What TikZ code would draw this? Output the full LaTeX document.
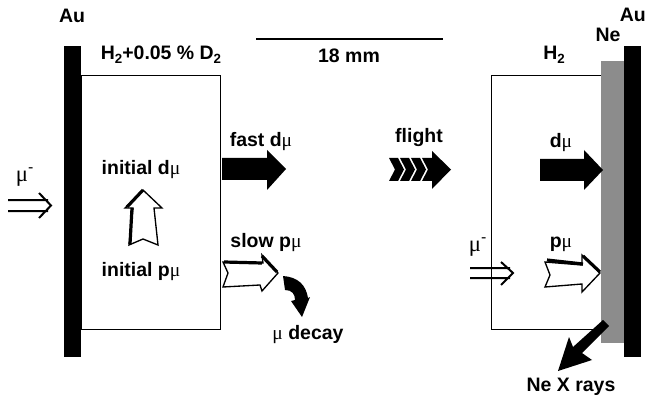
\documentclass[tikz,border=0pt]{standalone}
\usepackage{fontspec}
\setmainfont{Liberation Sans}
\newfontfamily\mufont{Liberation Serif}
\newcommand{\mumu}{{\mufont\mdseries μ}}
\newcommand{\subtwo}[1]{\raisebox{-3.2pt}{\fontsize{10pt}{12pt}\selectfont #1}}
\tikzset{
  x=0.75pt,y=-0.75pt,
  lbl/.style={font=\fontsize{14.6pt}{17pt}\selectfont\bfseries,inner sep=0pt,text=black},
  mulbl/.style={font=\fontsize{17pt}{20pt}\selectfont,inner sep=0pt},
  solidbar/.style={fill=black,draw=none},
  neon/.style={fill=black!45,draw=none},
  cell/.style={draw=black,line width=0.9pt,fill=white},
  hollow/.style={draw=black,line width=1pt,fill=white,line join=miter},
  shade/.style={draw=black,line width=2.4pt},
  solidarrow/.style={fill=black,draw=none},
  dbl/.style={draw=black,line width=1.5pt},
}
\begin{document}
\begin{tikzpicture}
\useasboundingbox (0,0) rectangle (647,403);
% cells
\node[cell,minimum width=104.25pt,minimum height=190.5pt,inner sep=0pt,anchor=north west] (leftcell) at (81,75) {};
\node[cell,minimum width=82.5pt,minimum height=190.5pt,inner sep=0pt,anchor=north west] (rightcell) at (491,75) {};
% foils
\fill[solidbar] (64,46) rectangle (81,357);
\fill[neon] (601,61) rectangle (624,343);
\fill[solidbar] (624,46) rectangle (641,357);
% scale
\coordinate (sa) at (256,39); \coordinate (sb) at (443,39);
\draw[line width=0.9pt] (sa) -- (sb);
% labels
\node[lbl] (au1) at (72,16) {Au};
\node[lbl,anchor=east] (au2) at (646,15) {Au};
\node[lbl] (ne) at (608,35) {Ne};
\node[lbl] (h1) at (161,55) {H\subtwo{2}+0.05 \% D\subtwo{2}};
\node[lbl] (h2) at (554,55) {H\subtwo{2}};
\node[lbl] (mm) at (349,56) {18 mm};
\node[lbl] (idm) at (141,170) {initial d\mumu};
\node[lbl] (ipm) at (141,272) {initial p\mumu};
\node[lbl] (fast) at (261,142) {fast d\mumu};
\node[lbl] (slow) at (266,243) {slow p\mumu};
\node[lbl] (dec) at (308,335) {\mumu{} decay};
\node[lbl] (fl) at (419,138) {flight};
\node[lbl] (dm) at (561,143) {d\mumu};
\node[lbl] (pm) at (561,244) {p\mumu};
\node[lbl] (xr) at (571,387) {Ne X rays};
\node[mulbl] (m1) at (25,177) {\mumu\textsuperscript{-}};
\node[mulbl] (m2) at (478,247) {\mumu\textsuperscript{-}};
% double arrows
\draw[dbl] (8,200) -- (48,200) (8,211) -- (48,211) (39,193) -- (51,205.5) -- (39,218);
\draw[dbl] (470,268) -- (510,268) (470,278) -- (510,278) (501,262) -- (513,273) -- (501,285);
% solid arrows
\fill[solidarrow] (222,158) -- (267,158) -- (267,150) -- (286,169) -- (267,190) -- (267,180) -- (222,180) -- cycle;
\fill[solidarrow] (540,159) -- (584,159) -- (584,150) -- (603,170) -- (584,190) -- (584,181) -- (540,181) -- cycle;
% hollow arrows
\draw[hollow] (143,190) -- (125,208) -- (133,208) -- (129,245) -- (143,239) -- (158,245) -- (154,208) -- (162,208) -- cycle;
\draw[shade] (143,190) -- (127,207) (132,208) -- (130,244);
\draw[hollow] (223,262) -- (263,263) -- (262,255) -- (278,273) -- (262,291) -- (260,285) -- (223,287) -- (228,273) -- cycle;
\draw[shade] (224,262) -- (262,263) (262,256) -- (277,272);
\draw[hollow] (545,262) -- (582,265) -- (582,255) -- (600,273) -- (582,292) -- (582,284) -- (545,287) -- (550,275) -- cycle;
\draw[shade] (547,260) -- (583,264) (583,256) -- (600,272);
% flight
\fill[solidarrow] (389,158) -- (398,158) -- (404,169.5) -- (398,181) -- (389,181) -- (395,169.5) -- cycle;
\fill[solidarrow] (400,158) -- (409,158) -- (415,169.5) -- (409,181) -- (400,181) -- (406,169.5) -- cycle;
\fill[solidarrow] (411,158) -- (420,158) -- (426,169.5) -- (420,181) -- (411,181) -- (417,169.5) -- cycle;
\fill[solidarrow] (422,158) -- (432,158) -- (432,151) -- (451,169.5) -- (432,189) -- (432,181) -- (422,181) -- (428,169.5) -- cycle;
% Ne X ray arrow
\fill[solidarrow] (603,320) -- (609,326) -- (582,353) -- (592,360) -- (558,371) -- (569,337) -- (573,347) -- cycle;
% decay
\fill[solidarrow] (283,276) .. controls (298,277) and (306,285) .. (308,298) -- (310,297) -- (302,317) -- (291,301) -- (295,300) .. controls (295,294) and (292,290) .. (285,290) -- cycle;
\end{tikzpicture}
\end{document}
